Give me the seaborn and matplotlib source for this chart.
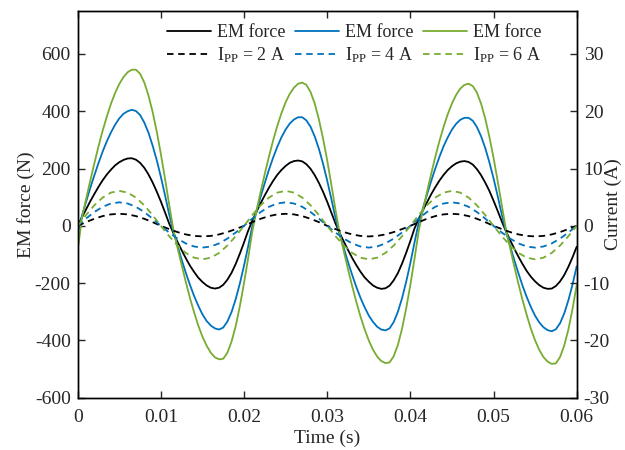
import numpy as np
import pandas as pd
import matplotlib
matplotlib.use("Agg")
import matplotlib.pyplot as plt
import seaborn as sns
from matplotlib.lines import Line2D

# ---- data ----
time_force = [i / 2000 for i in range(121)]   # 0 ... 0.06 s, 0.5 ms steps
time_current = [i / 1000 for i in range(61)]  # 0 ... 0.06 s, 1 ms steps

force_2A = [0, 29, 57, 85, 111, 136, 159, 179, 196, 211, 222, 230, 235, 236, 231, 220, 203, 180, 152, 120,
            85, 47, 8, -25, -56, -85, -113, -139, -161, -181, -196, -208, -216, -219, -216, -206, -188, -164, -133, -97,
            -58, -17, 18, 49, 79, 107, 133, 157, 178, 195, 209, 220, 226, 228, 225, 215, 199, 177, 150, 119,
            84, 46, 8, -25, -55, -84, -112, -137, -160, -180, -195, -208, -216, -220, -218, -209, -190, -165, -132, -94,
            -53, -9, 24, 54, 82, 110, 135, 158, 178, 195, 208, 218, 224, 226, 223, 214, 198, 177, 151, 122,
            88, 52, 15, -19, -50, -80, -108, -134, -158, -178, -194, -207, -216, -220, -219, -210, -194, -172, -143, -110,
            -73]
force_4A = [-28, 34, 83, 131, 176, 219, 259, 295, 326, 353, 375, 391, 400, 405, 401, 387, 361, 326, 281, 230,
            171, 107, 40, -20, -69, -118, -164, -206, -245, -279, -309, -332, -348, -358, -362, -355, -334, -301, -256, -201,
            -139, -71, 0, 51, 102, 150, 196, 238, 276, 309, 336, 357, 371, 379, 379, 368, 346, 312, 269, 217,
            158, 94, 27, -30, -78, -126, -171, -213, -251, -284, -313, -335, -352, -362, -365, -358, -336, -300, -253, -195,
            -130, -58, 10, 60, 109, 156, 200, 241, 278, 309, 336, 356, 370, 377, 377, 367, 345, 313, 272, 222,
            166, 104, 39, -20, -71, -120, -166, -210, -249, -284, -314, -337, -354, -364, -368, -361, -340, -306, -260, -205,
            -141]
force_6A = [-86, 26, 92, 156, 218, 277, 332, 381, 426, 464, 495, 519, 536, 545, 545, 531, 501, 456, 399, 330,
            251, 165, 74, -13, -76, -137, -196, -252, -302, -348, -387, -418, -443, -459, -466, -464, -443, -404, -350, -280,
            -200, -112, -19, 53, 119, 182, 242, 298, 349, 393, 431, 461, 482, 496, 500, 492, 467, 427, 372, 305,
            229, 144, 55, -26, -89, -151, -210, -265, -316, -361, -400, -432, -456, -472, -479, -477, -455, -416, -359, -288,
            -206, -115, -19, 53, 118, 181, 241, 296, 346, 390, 427, 457, 479, 492, 496, 488, 465, 427, 375, 311,
            238, 156, 71, -13, -78, -142, -203, -260, -312, -360, -400, -433, -458, -474, -482, -480, -458, -418, -362, -290,
            -207]

current_2A = [0, 0.65, 1.23, 1.70, 2.0, 2.1, 2.0, 1.70, 1.23, 0.65, 0, -0.57, -1.09, -1.5, -1.76, -1.85, -1.76, -1.5, -1.09, -0.57,
              0, 0.65, 1.23, 1.70, 2.0, 2.1, 2.0, 1.70, 1.23, 0.65, 0, -0.57, -1.09, -1.5, -1.76, -1.85, -1.76, -1.5, -1.09, -0.57,
              0, 0.65, 1.23, 1.70, 2.0, 2.1, 2.0, 1.70, 1.23, 0.65, 0, -0.57, -1.09, -1.5, -1.76, -1.85, -1.76, -1.5, -1.09, -0.57,
              0]
current_4A = [0, 1.27, 2.41, 3.32, 3.9, 4.1, 3.9, 3.32, 2.41, 1.27, 0, -1.17, -2.23, -3.07, -3.61, -3.8, -3.61, -3.07, -2.23, -1.17,
              0, 1.27, 2.41, 3.32, 3.9, 4.1, 3.9, 3.32, 2.41, 1.27, 0, -1.17, -2.23, -3.07, -3.61, -3.8, -3.61, -3.07, -2.23, -1.17,
              0, 1.27, 2.41, 3.32, 3.9, 4.1, 3.9, 3.32, 2.41, 1.27, 0, -1.17, -2.23, -3.07, -3.61, -3.8, -3.61, -3.07, -2.23, -1.17,
              0]
current_6A = [0, 1.88, 3.59, 4.93, 5.8, 6.1, 5.8, 4.93, 3.59, 1.88, 0, -1.81, -3.44, -4.73, -5.56, -5.85, -5.56, -4.73, -3.44, -1.81,
              0, 1.88, 3.59, 4.93, 5.8, 6.1, 5.8, 4.93, 3.59, 1.88, 0, -1.81, -3.44, -4.73, -5.56, -5.85, -5.56, -4.73, -3.44, -1.81,
              0, 1.88, 3.59, 4.93, 5.8, 6.1, 5.8, 4.93, 3.59, 1.88, 0, -1.81, -3.44, -4.73, -5.56, -5.85, -5.56, -4.73, -3.44, -1.81,
              0]

force_labels = ["EM force", "EM force", "EM force"]
current_labels = [r"I$_{\mathregular{PP}}$ = 2 A", r"I$_{\mathregular{PP}}$ = 4 A", r"I$_{\mathregular{PP}}$ = 6 A"]
colors = ["#000000", "#0072BD", "#77AC30"]

x_ticks = [0, 0.01, 0.02, 0.03, 0.04, 0.05, 0.06]
x_tick_labels = ["0", "0.01", "0.02", "0.03", "0.04", "0.05", "0.06"]
left_ticks = [-600, -400, -200, 0, 200, 400, 600]
right_ticks = [-30, -20, -10, 0, 10, 20, 30]

# ---- style ----
sns.set_style("ticks")
plt.rcParams["font.family"] = ["Liberation Serif", "DejaVu Serif"]
plt.rcParams["mathtext.fontset"] = "custom"
plt.rcParams["mathtext.rm"] = "Liberation Serif"
plt.rcParams["mathtext.it"] = "Liberation Serif:italic"

LW = 1.3
DASH = (0, (3.6, 2.6))

fig = plt.figure(figsize=(6.25, 4.5), dpi=100)
ax = fig.add_axes([0.1243, 0.1162, 0.7984, 0.8594])
ax2 = ax.twinx()

forces = [force_2A, force_4A, force_6A]
currents = [current_2A, current_4A, current_6A]

for f, c in zip(forces, colors):
    sns.lineplot(x=time_force, y=f, ax=ax, color=c, linewidth=LW, estimator=None, sort=False)
for cur, c in zip(currents, colors):
    sns.lineplot(x=time_current, y=cur, ax=ax2, color=c, linewidth=LW, linestyle=DASH,
                 estimator=None, sort=False)

ax.set_xlim(0, 0.06)
ax.set_ylim(-600, 750)
ax2.set_ylim(-30, 37.5)
ax.set_xticks(x_ticks)
ax.set_xticklabels(x_tick_labels)
ax.set_yticks(left_ticks)
ax.set_yticklabels([str(v) for v in left_ticks])
ax2.set_yticks(right_ticks)
ax2.set_yticklabels([str(v) for v in right_ticks])

for a in (ax, ax2):
    for s in a.spines.values():
        s.set_visible(True)
        s.set_linewidth(1.0)
        s.set_color("black")
ax.tick_params(axis="x", direction="in", length=5, width=1.0, labelsize=14, top=True, pad=8)
ax.tick_params(axis="y", direction="in", length=5, width=1.0, labelsize=14, right=False, pad=5)
ax2.tick_params(axis="y", direction="in", length=5, width=1.0, labelsize=14, pad=5)

ax.set_xlabel("Time (s)", fontsize=14, labelpad=3)
ax.set_ylabel("EM force (N)", fontsize=14, labelpad=0)
ax2.set_ylabel("Current (A)", fontsize=14, rotation=90)
ax2.yaxis.set_label_coords(1.057, 0.5)

handles = []
labels = []
for i in range(3):
    handles.append(Line2D([], [], color=colors[i], lw=LW))
    labels.append(force_labels[i])
    handles.append(Line2D([], [], color=colors[i], lw=LW, linestyle=DASH))
    labels.append(current_labels[i])
leg = fig.legend(handles, labels, ncol=3, loc="upper left", bbox_to_anchor=(167 / 625, 1 - 24 / 450),
                 frameon=False, fontsize=13, handlelength=2.45, columnspacing=0.55, handletextpad=0.3,
                 labelspacing=0.25, borderpad=0, borderaxespad=0)

fig.savefig("out.png", dpi=100)
